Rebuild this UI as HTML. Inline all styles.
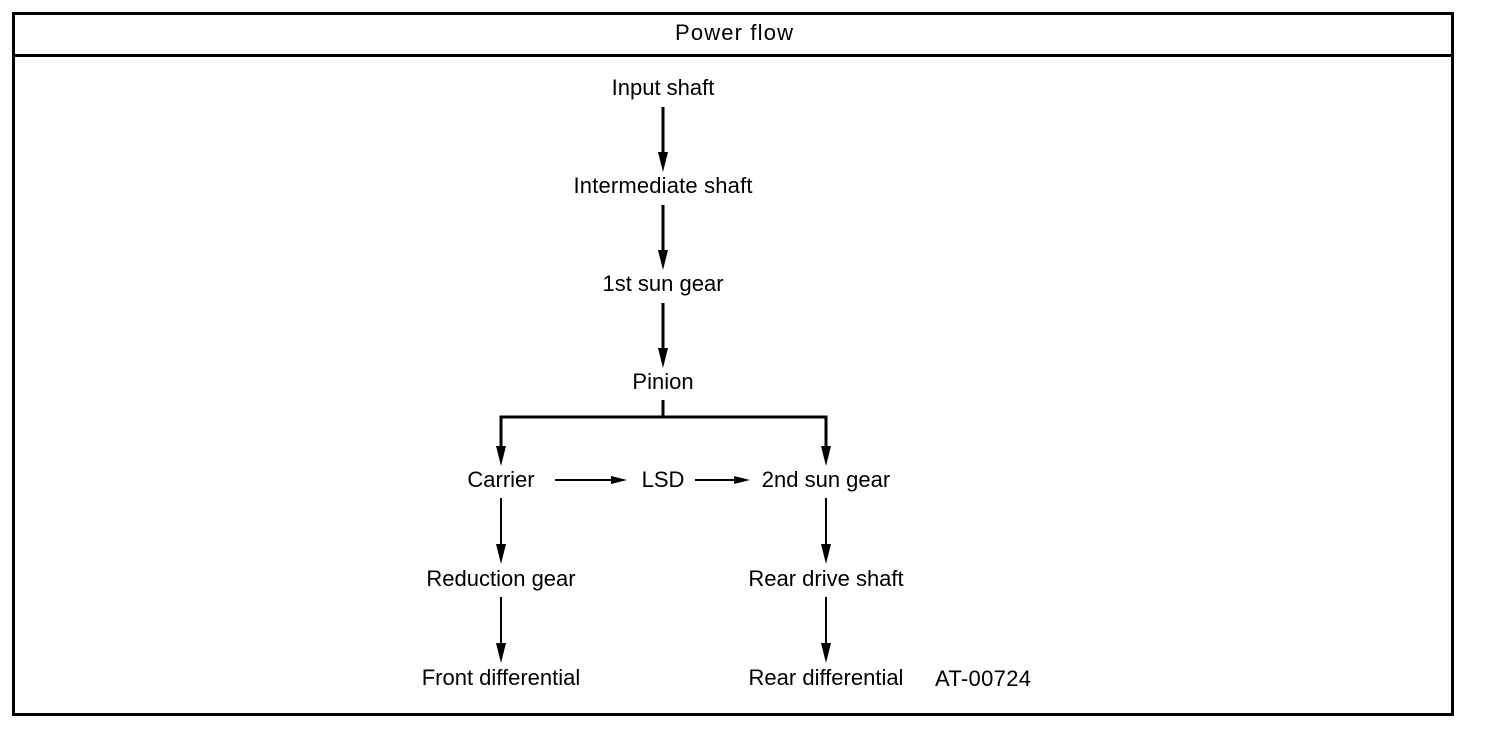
<!DOCTYPE html>
<html><head><meta charset="utf-8"><style>
html,body{margin:0;padding:0;background:#fff;}
svg{display:block;}
text{font-family:"Liberation Sans",Arial,sans-serif;font-size:22px;fill:#000;}
</style></head><body>
<svg width="1504" height="734" viewBox="0 0 1504 734" xmlns="http://www.w3.org/2000/svg">
<defs>
<marker id="a" markerWidth="10" markerHeight="16" refX="5" refY="16" orient="auto" markerUnits="userSpaceOnUse"></marker>
</defs>
<rect x="13.5" y="13.5" width="1439" height="701" fill="none" stroke="#000" stroke-width="3"/>
<line x1="13" y1="55.5" x2="1453" y2="55.5" stroke="#000" stroke-width="3"/>
<text x="734" y="40" text-anchor="middle" textLength="118">Power flow</text>

<g text-anchor="middle">
<text x="663" y="95">Input shaft</text>
<text x="663" y="193" textLength="179">Intermediate shaft</text>
<text x="663" y="291">1st sun gear</text>
<text x="663" y="389">Pinion</text>
<text x="501" y="487">Carrier</text>
<text x="663" y="487">LSD</text>
<text x="826" y="487">2nd sun gear</text>
<text x="501" y="586">Reduction gear</text>
<text x="826" y="586">Rear drive shaft</text>
<text x="501" y="685">Front differential</text>
<text x="826" y="685">Rear differential</text>
</g>
<text x="935" y="686" textLength="96">AT-00724</text>

<g stroke="#000" stroke-width="3" fill="none">
<line x1="663" y1="107" x2="663" y2="156"/>
<line x1="663" y1="205" x2="663" y2="254"/>
<line x1="663" y1="303" x2="663" y2="352"/>
<polyline points="663,400 663,417 501,417 501,450"/>
<polyline points="663,417 826,417 826,450"/>
</g>
<g stroke="#000" stroke-width="2" fill="none">
<line x1="501" y1="498" x2="501" y2="548"/>
<line x1="501" y1="597" x2="501" y2="647"/>
<line x1="826" y1="498" x2="826" y2="548"/>
<line x1="826" y1="597" x2="826" y2="647"/>
<line x1="555" y1="480" x2="614" y2="480"/>
<line x1="695" y1="480" x2="737" y2="480"/>
</g>
<g fill="#000">
<polygon points="658,152 668,152 663,172"/>
<polygon points="658,250 668,250 663,270"/>
<polygon points="658,348 668,348 663,368"/>
<polygon points="496,446 506,446 501,466"/>
<polygon points="821,446 831,446 826,466"/>
<polygon points="496,544 506,544 501,564"/>
<polygon points="496,643 506,643 501,663"/>
<polygon points="821,544 831,544 826,564"/>
<polygon points="821,643 831,643 826,663"/>
<polygon points="611,476 611,484 627,480"/>
<polygon points="734,476 734,484 750,480"/>
</g>
</svg>
</body></html>
